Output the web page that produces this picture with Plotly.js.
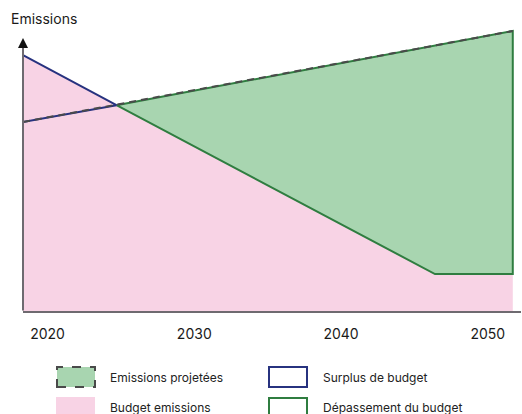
<!DOCTYPE html>
<html>
<head>
<meta charset="utf-8">
<script src="https://cdn.plot.ly/plotly-3.0.1.min.js"></script>
<style>html,body{margin:0;padding:0;background:#fff;}#chart{width:522px;height:414px;}</style>
</head>
<body>
<div id="chart"></div>
<script>
// ---- data (years, emissions index) ----
const budgetYears = [2018.33, 2024.7, 2046.4, 2051.7];
const budgetValues = [91.4, 73.5, 13.2, 13.2];
const projectedYears = [2018.33, 2051.7];
const projectedValues = [67.5, 100];
const overshootYears = [2024.7, 2051.7, 2051.7, 2046.4, 2024.7];
const overshootValues = [73.5, 100, 13.2, 13.2, 73.5];
const surplusYears = [2018.33, 2024.7, 2018.33, 2018.33];
const surplusValues = [91.4, 73.5, 67.5, 91.4];
const tickYears = [2020, 2030, 2040, 2050];
const tickLabels = ['2020', '2030', '2040', '2050'];
const legendLabels = ['Emissions projetées', 'Budget emissions', 'Surplus de budget', 'Dépassement du budget'];
const yTitle = 'Emissions';

// ---- styles ----
const PINK = '#f8d3e5', GREEN_FILL = '#a8d5b0', GREEN = '#2f7d40', NAVY = '#27327f', DASH = '#4a4a4a', AXIS = '#6e6a70';
const FONT = 'Inter, "Liberation Sans", Arial, sans-serif';
const W = 522, H = 414, M = {l: 23, r: 1, t: 25, b: 103};
const pw = W - M.l - M.r, ph = H - M.t - M.b;
const px = x => (x - M.l) / pw;
const py = y => (H - M.b - y) / ph;

const traces = [
  {x: budgetYears, y: budgetValues, type: 'scatter', mode: 'lines', fill: 'tozeroy',
   fillcolor: PINK, line: {width: 0, color: PINK}, hoverinfo: 'skip', showlegend: false},
  {x: overshootYears, y: overshootValues, type: 'scatter', mode: 'lines', fill: 'toself',
   fillcolor: GREEN_FILL, line: {width: 2, color: GREEN}, hoverinfo: 'skip', showlegend: false},
  {x: surplusYears, y: surplusValues, type: 'scatter', mode: 'lines',
   line: {width: 2, color: NAVY}, hoverinfo: 'skip', showlegend: false},
  {x: projectedYears, y: projectedValues, type: 'scatter', mode: 'lines',
   line: {width: 2, color: DASH, dash: '7px,5px'}, hoverinfo: 'skip', showlegend: false}
];

function box(x0, y0, x1, y1, fill, lineColor, dash) {
  return {type: 'rect', xref: 'paper', yref: 'paper', x0: px(x0), x1: px(x1), y0: py(y1), y1: py(y0),
    fillcolor: fill, line: {color: lineColor, width: lineColor ? 2 : 0, dash: dash || 'solid'}, layer: 'above'};
}
function label(text, x, y) {
  return {text: text, xref: 'paper', yref: 'paper', x: px(x), y: py(y), xanchor: 'left', yanchor: 'middle',
    showarrow: false, font: {family: FONT, size: 12, color: '#222'}};
}

const layout = {
  width: W, height: H, margin: M, paper_bgcolor: '#fff', plot_bgcolor: '#fff', showlegend: false,
  xaxis: {range: [2018.33, 2052.26], showgrid: false, zeroline: false, showline: true, linecolor: AXIS, linewidth: 2,
    tickvals: tickYears, ticktext: tickLabels, ticks: '', ticklabelstandoff: 9,
    tickfont: {family: FONT, size: 14, color: '#1a1a1a'}, fixedrange: true},
  yaxis: {range: [0, 102.14], showgrid: false, zeroline: false, showline: false, showticklabels: false, ticks: '', fixedrange: true},
  shapes: [
    box(57, 367, 95, 387, GREEN_FILL, DASH, 'dash'),
    box(56, 397, 95, 416, PINK, null),
    box(269, 367, 307, 387, 'rgba(0,0,0,0)', NAVY),
    box(269, 398, 307, 418, 'rgba(0,0,0,0)', GREEN)
  ],
  annotations: [
    {text: yTitle, xref: 'paper', yref: 'paper', x: px(9), y: py(18), xanchor: 'left', yanchor: 'middle',
     showarrow: false, font: {family: FONT, size: 14, color: '#1a1a1a'}},
    {text: '', xref: 'paper', yref: 'paper', x: px(23), y: py(44), ax: 0, ay: 268, showarrow: true,
     arrowhead: 0, arrowwidth: 2, arrowcolor: AXIS, standoff: 0},
    {text: '', xref: 'paper', yref: 'paper', x: px(23), y: py(38), ax: 0, ay: 8, showarrow: true,
     arrowhead: 2, arrowsize: 1, arrowwidth: 2, arrowcolor: '#111', standoff: 0},
    label(legendLabels[0], 108, 377),
    label(legendLabels[1], 108, 407),
    label(legendLabels[2], 321, 377),
    label(legendLabels[3], 321, 407)
  ]
};

Plotly.newPlot('chart', traces, layout, {displayModeBar: false, staticPlot: true});
</script>
</body>
</html>
